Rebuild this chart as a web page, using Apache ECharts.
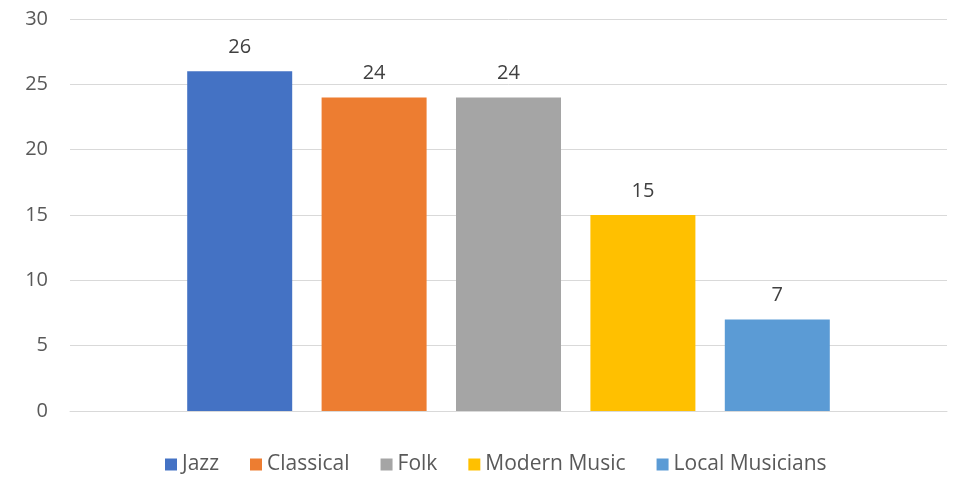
<!DOCTYPE html>
<html>
<head>
<meta charset="utf-8">
<script src="https://cdn.jsdelivr.net/npm/echarts@6/dist/echarts.min.js"></script>
<style>
  html, body { margin: 0; padding: 0; background: #fff; }
  #main { width: 955px; height: 480px; }
</style>
</head>
<body>
<div id="main"></div>
<script>
var seriesNames = ['Jazz', 'Classical', 'Folk', 'Modern Music', 'Local Musicians'];
var seriesValues = [26, 24, 24, 15, 7];
var seriesColors = ['#4472C4', '#ED7D31', '#A5A5A5', '#FFC000', '#5B9BD5'];
var yTicks = [0, 5, 10, 15, 20, 25, 30];

var myChart = echarts.init(document.getElementById('main'));
var font = 'Open Sans';

var series = seriesNames.map(function (name, i) {
    return {
        name: name,
        type: 'bar',
        barWidth: 105,
        barGap: '28%',
        itemStyle: { color: seriesColors[i] },
        label: {
            show: true,
            position: 'top',
            distance: 14,
            color: '#404040',
            fontSize: 20,
            fontFamily: font
        },
        data: [seriesValues[i]]
    };
});

var option = {
    animation: false,
    backgroundColor: '#fff',
    grid: { left: 70, right: 8, top: 19, bottom: 69 },
    legend: {
        left: 160,
        top: 449,
        itemWidth: 12,
        itemHeight: 12,
        itemGap: 31,
        icon: 'rect',
        textStyle: { color: '#595959', fontSize: 21, fontFamily: font }
    },
    xAxis: {
        type: 'category',
        data: [''],
        axisLine: { lineStyle: { color: '#d9d9d9', width: 1 } },
        axisTick: { show: false },
        axisLabel: { show: false }
    },
    yAxis: {
        type: 'value',
        min: yTicks[0],
        max: yTicks[yTicks.length - 1],
        interval: 5,
        axisLine: { show: false },
        axisTick: { show: false },
        axisLabel: { color: '#595959', fontSize: 20, fontFamily: font, margin: 22 },
        splitLine: { lineStyle: { color: '#d9d9d9', width: 1 } }
    },
    series: series
};

myChart.setOption(option);
</script>
</body>
</html>
